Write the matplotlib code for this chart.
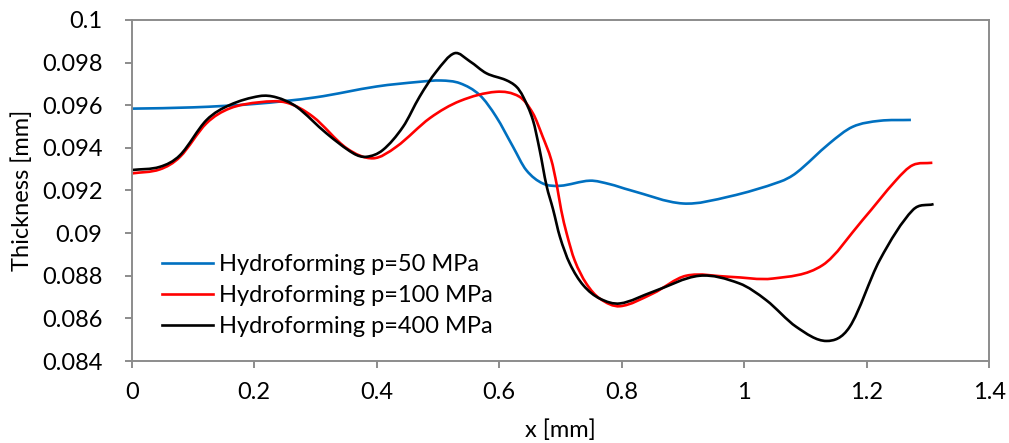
import matplotlib
matplotlib.use("Agg")
import matplotlib.pyplot as plt
from matplotlib.path import Path
from matplotlib.patches import PathPatch
from matplotlib.lines import Line2D
import numpy as np

plt.rcParams['font.family'] = ['Lato', 'DejaVu Sans']

# Thickness profiles along the part, x in mm, thickness in mm
x_50 = [0.000, 0.100, 0.200, 0.300, 0.400, 0.470, 0.505, 0.536, 0.568, 0.595,
        0.6225, 0.644, 0.671, 0.699, 0.748, 0.780, 0.813, 0.900, 0.976, 1.058,
        1.085, 1.139, 1.177, 1.221, 1.272]
t_50 = [0.09584, 0.09590, 0.09606, 0.09637, 0.09688, 0.09710, 0.09716, 0.09703, 0.09648, 0.09546,
        0.09405, 0.09296, 0.09233, 0.09222, 0.09246, 0.09230, 0.09202, 0.09139, 0.09172, 0.09241,
        0.09283, 0.09421, 0.09499, 0.09527, 0.09531]

x_100 = [0.000, 0.046, 0.079, 0.122, 0.160, 0.209, 0.253, 0.296, 0.351, 0.394,
         0.432, 0.487, 0.536, 0.595, 0.633, 0.655, 0.671, 0.685, 0.694, 0.701,
         0.710, 0.723, 0.742, 0.764, 0.797, 0.851, 0.905, 0.976, 1.047, 1.128,
         1.193, 1.248, 1.275, 1.307]
t_100 = [0.09280, 0.09299, 0.09358, 0.09515, 0.09585, 0.09614, 0.09612, 0.09546, 0.09398, 0.09351,
         0.09405, 0.09540, 0.09620, 0.09663, 0.09640, 0.09562, 0.09452, 0.09343, 0.09225, 0.09110,
         0.08999, 0.08873, 0.08764, 0.08693, 0.08657, 0.08717, 0.08800, 0.08795, 0.08787, 0.08850,
         0.09061, 0.09249, 0.09319, 0.09330]

x_400 = [0.000, 0.046, 0.079, 0.122, 0.160, 0.209, 0.236, 0.269, 0.318, 0.362,
         0.383, 0.410, 0.443, 0.470, 0.497, 0.527, 0.552, 0.579, 0.611, 0.628,
         0.639, 0.655, 0.666, 0.677, 0.688, 0.699, 0.715, 0.737, 0.764, 0.797,
         0.851, 0.927, 0.992, 1.036, 1.085, 1.134, 1.172, 1.221, 1.275, 1.309]
t_400 = [0.09296, 0.09311, 0.09366, 0.09530, 0.09601, 0.09643, 0.09637, 0.09593, 0.09468, 0.09374,
         0.09358, 0.09390, 0.09499, 0.09640, 0.09757, 0.09844, 0.09806, 0.09750, 0.09718, 0.09687,
         0.09640, 0.09530, 0.09390, 0.09225, 0.09110, 0.08983, 0.08858, 0.08756, 0.08693, 0.08670,
         0.08725, 0.08800, 0.08764, 0.08685, 0.08560, 0.08494, 0.08560, 0.08873, 0.09108, 0.09136]

labels = ["Hydroforming p=50 MPa", "Hydroforming p=100 MPa", "Hydroforming p=400 MPa"]
colors = ["#0070C0", "#FF0000", "#000000"]

x_ticks = [0, 0.2, 0.4, 0.6, 0.8, 1, 1.2, 1.4]
x_tick_labels = ["0", "0.2", "0.4", "0.6", "0.8", "1", "1.2", "1.4"]
y_ticks = [0.084, 0.086, 0.088, 0.09, 0.092, 0.094, 0.096, 0.098, 0.1]
y_tick_labels = ["0.084", "0.086", "0.088", "0.09", "0.092", "0.094", "0.096", "0.098", "0.1"]


def smooth_path(xs, ys):
    """Smoothed polyline as cubic Bezier segments (Hermite slopes from neighbours)."""
    xs = np.asarray(xs, float)
    ys = np.asarray(ys, float)
    n = len(xs)
    m = np.zeros(n)
    for i in range(n):
        a = max(i - 1, 0)
        b = min(i + 1, n - 1)
        m[i] = (ys[b] - ys[a]) / (xs[b] - xs[a])
    verts = [(xs[0], ys[0])]
    codes = [Path.MOVETO]
    for i in range(n - 1):
        dx = xs[i + 1] - xs[i]
        verts += [(xs[i] + dx / 3, ys[i] + m[i] * dx / 3),
                  (xs[i + 1] - dx / 3, ys[i + 1] - m[i + 1] * dx / 3),
                  (xs[i + 1], ys[i + 1])]
        codes += [Path.CURVE4] * 3
    return Path(verts, codes)


fig = plt.figure(figsize=(10.09, 4.43), dpi=100)
ax = fig.add_axes([0.1305, 0.1851, 0.850, 0.7698])

axis_grey = "#8C8C8C"
for series_x, series_t, col in zip([x_50, x_100, x_400], [t_50, t_100, t_400], colors):
    ax.add_patch(PathPatch(smooth_path(series_x, series_t), fill=False,
                           edgecolor=col, linewidth=1.9, capstyle='butt', joinstyle='round'))

ax.set_xlim(0, 1.4)
ax.set_ylim(0.084, 0.1)
ax.set_xticks(x_ticks)
ax.set_xticklabels(x_tick_labels)
ax.set_yticks(y_ticks)
ax.set_yticklabels(y_tick_labels)

for s in ax.spines.values():
    s.set_color(axis_grey)
    s.set_linewidth(1.4)
ax.tick_params(axis='both', direction='out', length=5, width=1.4, color=axis_grey,
               labelsize=17, labelcolor="#000000")
ax.tick_params(axis='y', pad=16)
ax.tick_params(axis='x', pad=10)

ax.set_xlabel("x [mm]", fontsize=17, va='center')
ax.xaxis.set_label_coords(0.5, -0.202)
ax.set_ylabel("Thickness [mm]", fontsize=17, va='center', ha='center')
ax.yaxis.set_label_coords(-0.128, 0.5)

handles = [Line2D([], [], color=c, linewidth=1.9) for c in colors]
ax.legend(handles, labels, loc='upper left', bbox_to_anchor=(0.035, 0.3144),
          frameon=False, fontsize=17, handlelength=2.19, handletextpad=0.25,
          labelspacing=0.43, borderaxespad=0.0, borderpad=0.0)

fig.savefig("out.png", dpi=100)
